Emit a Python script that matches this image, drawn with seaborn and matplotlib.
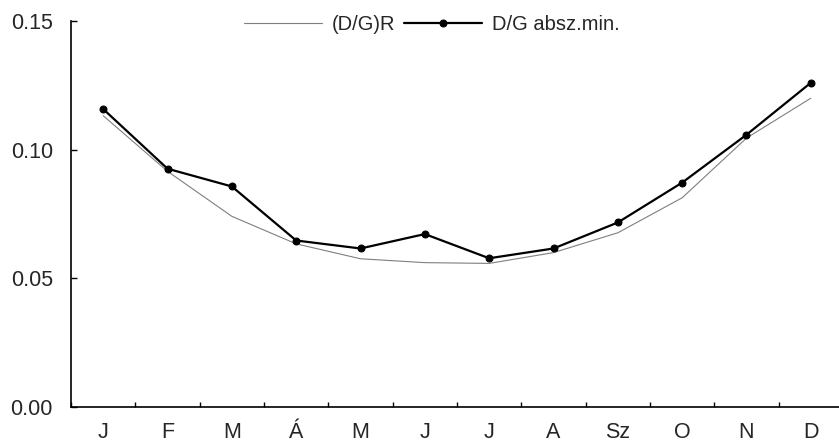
import numpy as np
import pandas as pd
import matplotlib
matplotlib.use("Agg")
import matplotlib.pyplot as plt
import seaborn as sns

# Monthly categories (Hungarian month initials)
months = ["J", "F", "M", "Á", "M", "J", "J", "A", "Sz", "O", "N", "D"]

# Fitted ratio (D/G)R and observed absolute-minimum ratio
dg_r = [0.1132, 0.0916, 0.0741, 0.0634, 0.0576, 0.0561, 0.0558, 0.0600, 0.0677, 0.0813, 0.1045, 0.1200]
dg_min = [0.1158, 0.0926, 0.0857, 0.0647, 0.0616, 0.0672, 0.0578, 0.0616, 0.0717, 0.0872, 0.1058, 0.1260]

label_r = "(D/G)R"
label_min = "D/G absz.min."

sns.set_style("white")
plt.rcParams["font.family"] = ["Liberation Sans", "DejaVu Sans"]

fig = plt.figure(figsize=(8.39, 4.48), dpi=100)
ax = fig.add_axes([71 / 839, 1 - 407 / 448, (843 - 71) / 839, (407 - 21) / 448])

pos = np.arange(len(months))
df = pd.DataFrame({"pos": pos, "r": dg_r, "m": dg_min})

sns.lineplot(data=df, x="pos", y="r", ax=ax, color="#7f7f7f", linewidth=0.8,
             label=label_r)
sns.lineplot(data=df, x="pos", y="m", ax=ax, color="black", linewidth=1.6,
             marker="o", markersize=5, markeredgecolor="black", label=label_min)

ax.set_xlim(-0.5, len(months) - 0.5)
ax.set_ylim(0, 0.15)
ax.set_yticks([0.0, 0.05, 0.10, 0.15])
ax.set_yticklabels(["0.00", "0.05", "0.10", "0.15"])

# Category boundaries carry the tick marks; labels sit at the centres
ax.set_xticks(np.arange(-0.5, len(months), 1.0))
ax.set_xticklabels([])
ax.set_xticks(pos, minor=True)
ax.set_xticklabels(months, minor=True)
ax.tick_params(axis="x", which="major", direction="in", length=3.5, width=1.0, color="black")
ax.tick_params(axis="x", which="minor", length=0, pad=11, labelsize=15.5)
ax.tick_params(axis="y", direction="in", length=4, width=1.0, color="black", pad=13, labelsize=15.5)
ax.tick_params(left=True, bottom=True)

ax.set_xlabel("")
ax.set_ylabel("")
for side in ("top", "right"):
    ax.spines[side].set_visible(False)
for side in ("left", "bottom"):
    ax.spines[side].set_color("black")
    ax.spines[side].set_linewidth(1.2)

ax.legend(loc="center", bbox_to_anchor=(432 / 839, 1 - 25 / 448),
          bbox_transform=fig.transFigure, ncol=2, frameon=False,
          fontsize=14.5, handlelength=3.85, handletextpad=0.5, columnspacing=0.45,
          borderaxespad=0, borderpad=0)

fig.savefig("out.png", dpi=100)
